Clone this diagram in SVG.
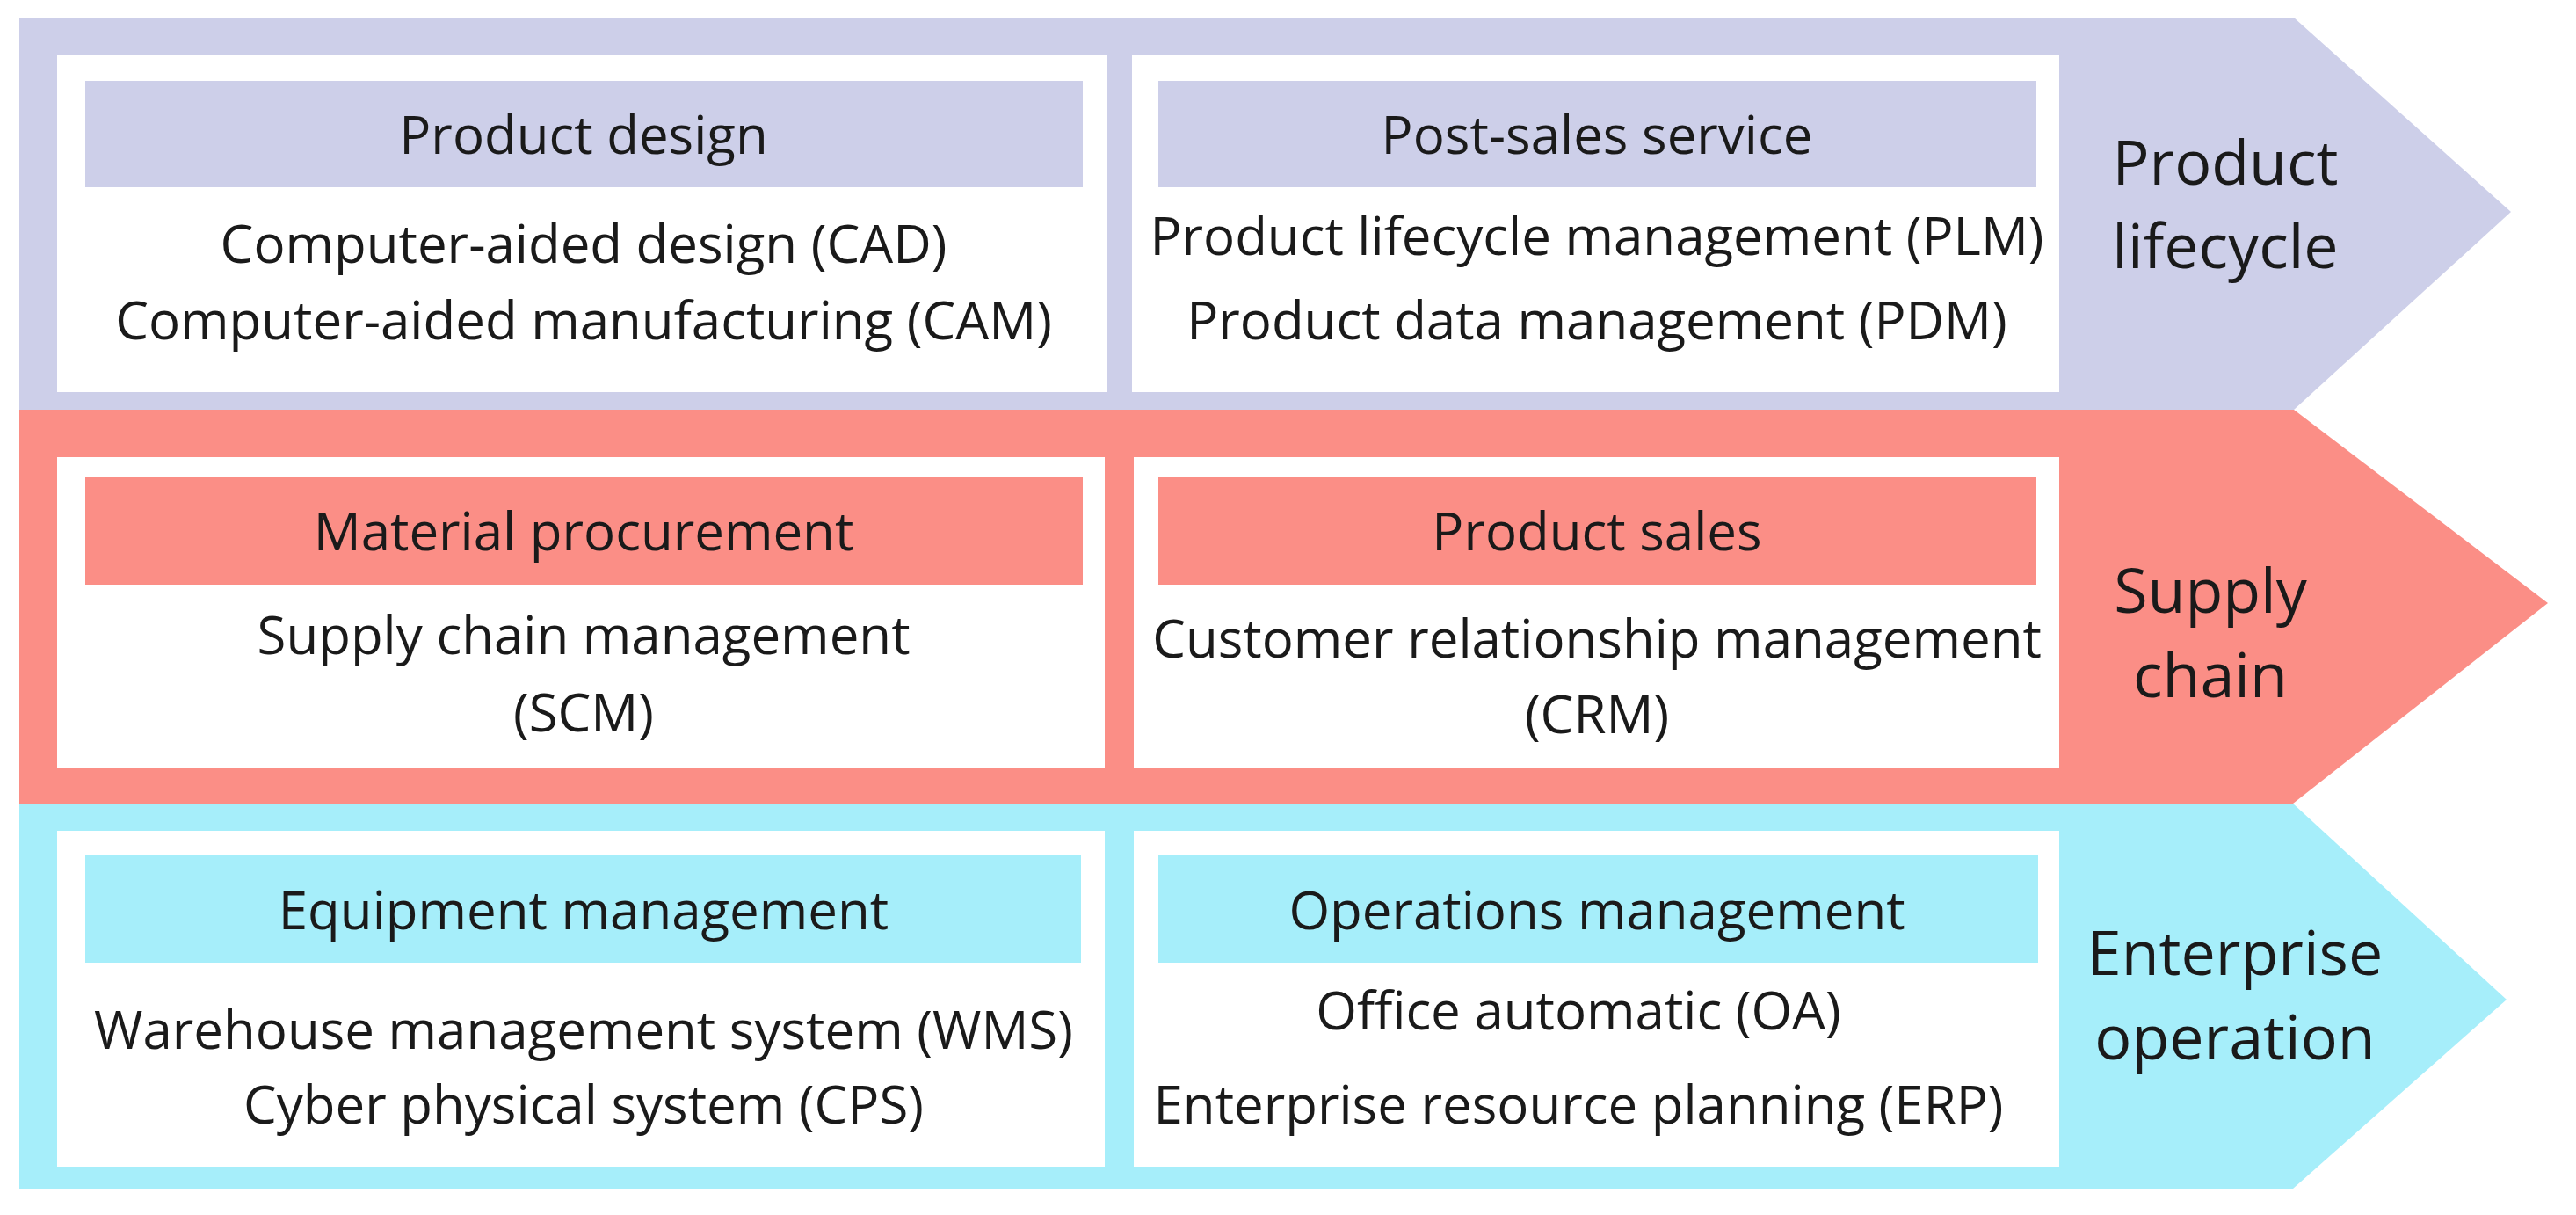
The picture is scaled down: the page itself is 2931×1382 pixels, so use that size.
<svg xmlns="http://www.w3.org/2000/svg" width="2931" height="1382" viewBox="0 0 2931 1382">
<style>
text{font-family:"Open Sans","Noto Sans",sans-serif;fill:#1a1a1a;text-anchor:middle}
.t{font-size:60px}
.l{font-size:70px}
.w{fill:#ffffff}
.b1{fill:#cdcfe9}.b2{fill:#fb8e86}.b3{fill:#a6eefa}
</style>
<g id="band-lifecycle">
<polygon class="b1" points="22,20 2610,20 2857,241 2610,466 22,466"/>
<text class="l" x="2532" y="210">Product</text>
<text class="l" x="2532" y="305">lifecycle</text>
</g>
<g id="band-supply">
<polygon class="b2" points="22,466 2610,466 2899,686 2609,914 22,914"/>
<text class="l" x="2515" y="697">Supply</text>
<text class="l" x="2515" y="793">chain</text>
</g>
<g id="band-enterprise">
<polygon class="b3" points="22,914 2609,914 2852,1137 2609,1352 22,1352"/>
<text class="l" x="2543" y="1109">Enterprise</text>
<text class="l" x="2543" y="1205">operation</text>
</g>
<g id="product-design">
<rect class="w" x="65" y="62" width="1195" height="384"/>
<rect class="b1" x="97" y="92" width="1135" height="121"/>
<text class="t" x="664" y="175">Product design</text>
<text class="t" x="664" y="299">Computer-aided design (CAD)</text>
<text class="t" x="664" y="386">Computer-aided manufacturing (CAM)</text>
</g>
<g id="post-sales">
<rect class="w" x="1288" y="62" width="1055" height="384"/>
<rect class="b1" x="1318" y="92" width="999" height="121"/>
<text class="t" x="1817" y="175">Post-sales service</text>
<text class="t" x="1817" y="290">Product lifecycle management (PLM)</text>
<text class="t" x="1817" y="386">Product data management (PDM)</text>
</g>
<g id="material-procurement">
<rect class="w" x="65" y="520" width="1192" height="354"/>
<rect class="b2" x="97" y="542" width="1135" height="123"/>
<text class="t" x="664" y="626">Material procurement</text>
<text class="t" x="664" y="744">Supply chain management</text>
<text class="t" x="664" y="832">(SCM)</text>
</g>
<g id="product-sales">
<rect class="w" x="1290" y="520" width="1053" height="354"/>
<rect class="b2" x="1318" y="542" width="999" height="123"/>
<text class="t" x="1817" y="626">Product sales</text>
<text class="t" x="1817" y="748">Customer relationship management</text>
<text class="t" x="1817" y="834">(CRM)</text>
</g>
<g id="equipment-management">
<rect class="w" x="65" y="945" width="1192" height="382"/>
<rect class="b3" x="97" y="972" width="1133" height="123"/>
<text class="t" x="664" y="1057">Equipment management</text>
<text class="t" x="664" y="1193">Warehouse management system (WMS)</text>
<text class="t" x="664" y="1278">Cyber physical system (CPS)</text>
</g>
<g id="operations-management">
<rect class="w" x="1290" y="945" width="1053" height="382"/>
<rect class="b3" x="1318" y="972" width="1001" height="123"/>
<text class="t" x="1817" y="1057">Operations management</text>
<text class="t" x="1796" y="1171">Office automatic (OA)</text>
<text class="t" x="1796" y="1278">Enterprise resource planning (ERP)</text>
</g>
<g id="connectors"></g>
</svg>
